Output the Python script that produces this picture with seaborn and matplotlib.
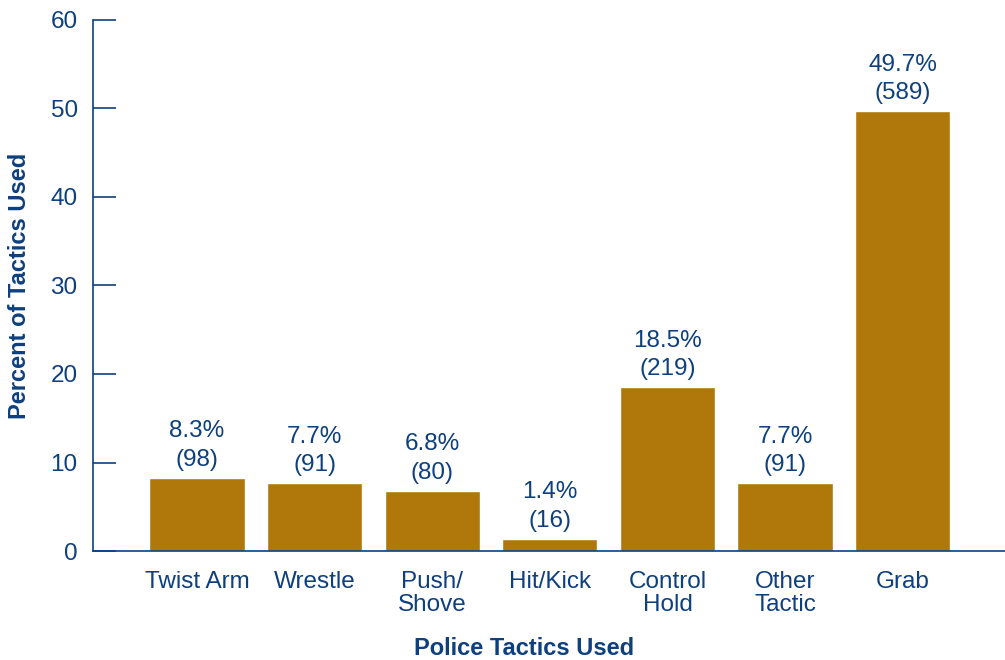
import matplotlib
matplotlib.use("Agg")
import matplotlib.pyplot as plt
import seaborn as sns
import pandas as pd

categories = ["Twist Arm", "Wrestle", "Push/\nShove", "Hit/Kick", "Control\nHold", "Other\nTactic", "Grab"]
percents = [8.3, 7.7, 6.8, 1.4, 18.5, 7.7, 49.7]
counts = [98, 91, 80, 16, 219, 91, 589]
yticks = [0, 10, 20, 30, 40, 50, 60]

BLUE = "#0E3F7E"
BAR = "#B0780A"
FS = 17.5

sns.set_theme(style="white")
plt.rcParams["font.family"] = ["Liberation Sans", "DejaVu Sans"]

df = pd.DataFrame({"cat": categories, "pct": percents})

fig = plt.figure(figsize=(10.05, 6.6), dpi=100)
ax = fig.add_axes([0.0925, 0.165, 0.9075, 0.805])
sns.barplot(data=df, x="cat", y="pct", color=BAR, saturation=1, width=0.81, ax=ax)

for i, (p, c) in enumerate(zip(percents, counts)):
    ax.annotate(f"{p}%\n({c})", (i, p), xytext=(0, 5), textcoords="offset points",
                ha="center", va="bottom", fontsize=FS, color=BLUE, linespacing=1.38)

ax.set_ylim(0, 60)
ax.set_xlim(-0.885, 6.87)
ax.set_yticks(yticks)
ax.set_yticklabels([str(t) for t in yticks])
for s in ["top", "right"]:
    ax.spines[s].set_visible(False)
for s in ["left", "bottom"]:
    ax.spines[s].set_color(BLUE)
    ax.spines[s].set_linewidth(1.2)
ax.tick_params(axis="y", direction="in", length=16.5, width=1.2, color=BLUE,
               labelcolor=BLUE, labelsize=FS, pad=11, left=True)
ax.tick_params(axis="x", length=0, labelcolor=BLUE, labelsize=FS, pad=14)
for lbl in ax.get_xticklabels():
    lbl.set_linespacing(1.1)
ax.set_xlabel("Police Tactics Used", fontsize=17, fontweight="bold", color=BLUE)
ax.set_ylabel("Percent of Tactics Used", fontsize=17, fontweight="bold", color=BLUE)
ax.xaxis.set_label_coords(0.473, -0.162)
ax.yaxis.set_label_coords(-0.068, 0.5)

fig.savefig("out.png", dpi=100)
